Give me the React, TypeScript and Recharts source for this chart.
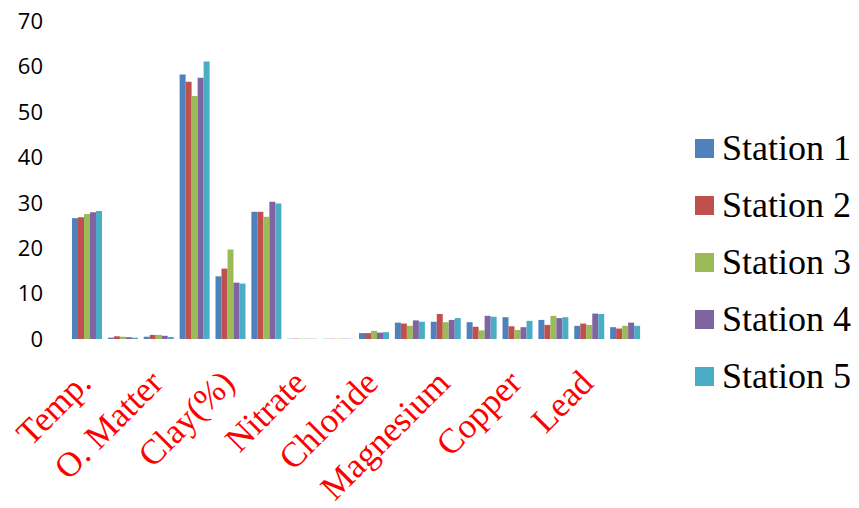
import React from "react";
import { BarChart, Bar, XAxis, YAxis, Legend } from "recharts";

const categories = ["c1", "c2", "c3", "c4", "c5", "c6", "c7", "c8", "c9", "c10", "c11", "c12", "c13", "c14", "c15", "c16"];
const axisLabels = ["Temp.", "", "O. Matter", "", "Clay(%)", "", "Nitrate", "", "Chloride", "", "Magnesium", "", "Copper", "", "Lead", ""];
const yTicks = [0, 10, 20, 30, 40, 50, 60, 70];

const station1 = [26.6, 0.3, 0.5, 58.2, 13.8, 28.0, 0.05, 0.05, 1.3, 3.6, 3.8, 3.7, 4.8, 4.2, 2.9, 2.6];
const station2 = [26.8, 0.6, 0.9, 56.6, 15.5, 28.0, 0.08, 0.06, 1.3, 3.4, 5.5, 2.7, 2.8, 3.1, 3.4, 2.3];
const station3 = [27.5, 0.5, 0.9, 53.5, 19.7, 26.9, 0.06, 0.05, 1.8, 2.9, 3.7, 1.9, 2.0, 5.1, 3.1, 2.9];
const station4 = [27.9, 0.4, 0.7, 57.5, 12.4, 30.2, 0.05, 0.06, 1.4, 4.1, 4.2, 5.1, 2.6, 4.6, 5.6, 3.6];
const station5 = [28.2, 0.3, 0.45, 61.1, 12.2, 29.8, 0.06, 0.05, 1.5, 3.8, 4.6, 4.9, 4.0, 4.8, 5.5, 2.9];

const seriesNames = ["Station 1", "Station 2", "Station 3", "Station 4", "Station 5"];
const seriesColors = ["#4F81BD", "#C0504D", "#9BBB59", "#8064A2", "#4BACC6"];
const seriesValues = [station1, station2, station3, station4, station5];

const data = categories.map((c, i) => {
  const row: Record<string, string | number> = { cat: c };
  seriesNames.forEach((n, s) => {
    row[n] = seriesValues[s][i];
  });
  return row;
});

const XTick = (props: any) => {
  const { x, y, payload } = props;
  const idx = categories.indexOf(payload.value);
  const label = axisLabels[idx];
  if (!label) return null;
  return (
    <text
      x={0}
      y={0}
      transform={`translate(${x + 7},${y + 46}) rotate(-45)`}
      textAnchor="end"
      fill="#FF0000"
      fontFamily="'Liberation Serif', 'Times New Roman', serif"
      fontSize={35}
    >
      {label}
    </text>
  );
};

const LegendContent = (props: any) => {
  const { payload } = props;
  return (
    <div style={{ width: 164 }}>
      {(payload || []).map((p: any) => (
        <div
          key={p.value}
          style={{
            position: "relative",
            height: 57,
            lineHeight: "57px",
            fontFamily: "'Liberation Serif', 'Times New Roman', serif",
            fontSize: 36,
            color: "#000",
            whiteSpace: "nowrap",
          }}
        >
          <span
            style={{
              position: "absolute",
              left: 0,
              top: 19,
              width: 19,
              height: 19,
              background: p.color,
            }}
          />
          <span style={{ position: "absolute", left: 27, top: 0 }}>{p.value}</span>
        </div>
      ))}
    </div>
  );
};

export default function App() {
  return (
    <div style={{ position: "absolute", left: 0, top: 0, width: 859, height: 508, background: "#fff" }}>
      <BarChart
        width={859}
        height={508}
        data={data}
        margin={{ top: 21, right: 53, left: 0, bottom: 0 }}
        barCategoryGap={4}
        barGap={0}
      >
        <XAxis
          dataKey="cat"
          axisLine={false}
          tickLine={false}
          tickSize={0}
          tickMargin={0}
          interval={0}
          height={169}
          tick={<XTick />}
        />
        <YAxis
          domain={[0, 70]}
          ticks={yTicks}
          axisLine={false}
          tickLine={false}
          tickSize={0}
          tickMargin={25}
          width={68}
          tick={{ fill: "#000", fontSize: 22, fontFamily: "'Open Sans', sans-serif" }}
        />
        <Legend
          layout="vertical"
          align="right"
          verticalAlign="middle"
          content={<LegendContent />}
          wrapperStyle={{ left: 695, top: 120, right: "auto", bottom: "auto", width: 164, margin: 0, padding: 0 }}
        />
        {seriesNames.map((n, s) => (
          <Bar key={n} dataKey={n} fill={seriesColors[s]} isAnimationActive={false} />
        ))}
      </BarChart>
    </div>
  );
}
